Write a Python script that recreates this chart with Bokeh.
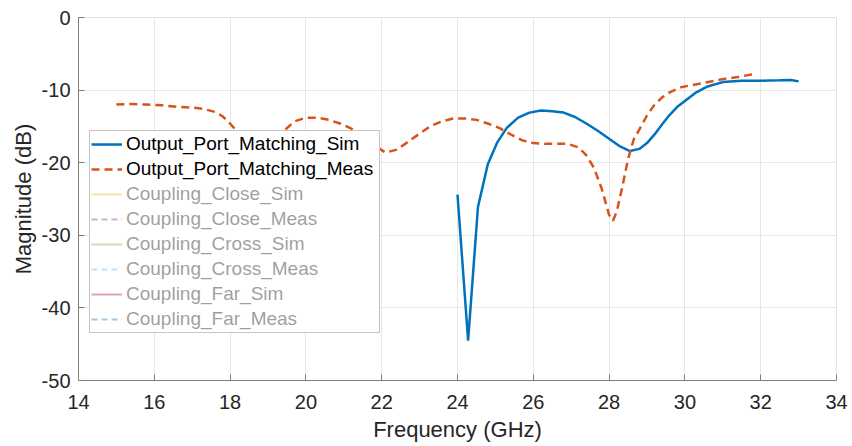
from bokeh.plotting import figure
from bokeh.models import Legend, LegendItem, FixedTicker, PrintfTickFormatter
from bokeh.embed import file_html
from bokeh.resources import INLINE

# Measured output-port matching (GHz, dB)
meas_f = [15.0, 15.4, 15.8, 16.2, 16.6, 17.0, 17.3, 17.6, 17.8, 18.0, 18.2, 18.5,
          18.8, 19.1, 19.4, 19.7, 20.0, 20.3, 20.6, 20.9, 21.2, 21.5, 21.8, 22.1,
          22.4, 22.7, 23.0, 23.3, 23.6, 23.9, 24.2, 24.5, 24.8, 25.1, 25.4, 25.7,
          26.0, 26.3, 26.6, 26.9, 27.2, 27.4, 27.6, 27.8, 28.0, 28.1, 28.2, 28.35,
          28.5, 28.65, 28.8, 29.0, 29.2, 29.4, 29.6, 29.9, 30.2, 30.5, 30.8, 31.1,
          31.4, 31.7, 31.9]
meas_db = [-12.0, -11.9, -12.0, -12.1, -12.3, -12.4, -12.6, -13.0, -13.6, -14.6, -15.8, -16.6,
           -16.9, -16.6, -15.7, -14.3, -13.8, -13.8, -14.1, -14.6, -15.3, -16.4, -17.6, -18.6,
           -18.2, -17.1, -16.0, -14.9, -14.3, -13.9, -13.9, -14.1, -14.6, -15.2, -16.1, -16.9,
           -17.3, -17.4, -17.4, -17.4, -17.9, -19.0, -20.7, -23.5, -27.2, -28.0, -26.8, -23.3,
           -19.5, -16.8, -15.4, -13.5, -12.0, -11.0, -10.3, -9.6, -9.3, -9.0, -8.7, -8.4,
           -8.2, -7.9, -7.8]

# Simulated output-port matching (GHz, dB)
sim_f = [24.0, 24.28, 24.54, 24.8, 25.05, 25.3, 25.6, 25.9, 26.2, 26.5, 26.8, 27.1,
         27.4, 27.7, 28.0, 28.3, 28.55, 28.8, 29.0, 29.2, 29.4, 29.6, 29.8, 30.0,
         30.3, 30.6, 31.0, 31.5, 32.0, 32.5, 32.8, 33.0]
sim_db = [-24.4, -44.5, -26.1, -20.2, -17.2, -15.2, -13.8, -13.1, -12.8, -12.9, -13.1, -13.7,
          -14.6, -15.6, -16.7, -17.8, -18.4, -18.1, -17.3, -16.1, -14.7, -13.4, -12.3, -11.5,
          -10.3, -9.5, -8.9, -8.7, -8.7, -8.65, -8.6, -8.8]

# Coupling traces are switched off (no data shown); they appear only, greyed, in the legend
coupling_names = ["Coupling_Close_Sim", "Coupling_Close_Meas", "Coupling_Cross_Sim",
                  "Coupling_Cross_Meas", "Coupling_Far_Sim", "Coupling_Far_Meas"]
coupling_colors = ["#EDB120", "#7E2F8E", "#77AC30", "#4DBEEE", "#A2142F", "#0072BD"]
coupling_dashes = ["solid", "6 4", "solid", "6 4", "solid", "6 4"]
NO_DATA = [float("nan")]

x_ticks = [14, 16, 18, 20, 22, 24, 26, 28, 30, 32, 34]
y_ticks = [-50, -40, -30, -20, -10, 0]

FONT = "Liberation Sans"
AXIS_GRAY = "#7f7f7f"
TEXT_DARK = "#262626"

p = figure(width=852, height=446, x_range=(14, 34), y_range=(-50, 0),
           output_backend="svg", toolbar_location=None,
           min_border_left=78, min_border_right=16, min_border_top=17, min_border_bottom=66,
           background_fill_color="white", border_fill_color="white")

p.outline_line_color = "#e3e3e3"
p.outline_line_width = 1

for ax, ticks in ((p.xaxis, x_ticks), (p.yaxis, y_ticks)):
    ax.ticker = FixedTicker(ticks=ticks)
    ax.formatter = PrintfTickFormatter(format="%d")
    ax.axis_line_color = AXIS_GRAY
    ax.major_tick_line_color = AXIS_GRAY
    ax.major_tick_in = 6
    ax.major_tick_out = 0
    ax.minor_tick_line_color = None
    ax.major_label_text_font = FONT
    ax.major_label_text_font_size = "20px"
    ax.major_label_text_color = TEXT_DARK
    ax.axis_label_text_font = FONT
    ax.axis_label_text_font_size = "22px"
    ax.axis_label_text_font_style = "normal"
    ax.axis_label_text_color = TEXT_DARK

p.xaxis.axis_label = "Frequency (GHz)"
p.yaxis.axis_label = "Magnitude (dB)"
p.xaxis.major_label_standoff = 14
p.xaxis.axis_label_standoff = 5
p.yaxis.major_label_standoff = 8
p.yaxis.axis_label_standoff = 3

for g in (p.xgrid, p.ygrid):
    g.grid_line_color = "#e6e6e6"
    g.grid_line_width = 1

sim_r = p.line(sim_f, sim_db, line_color="#0072BD", line_width=2.5)
meas_r = p.line(meas_f, meas_db, line_color="#D95319", line_width=2.5, line_dash="8 5")

items = [LegendItem(label="Output_Port_Matching_Sim", renderers=[sim_r]),
         LegendItem(label="Output_Port_Matching_Meas", renderers=[meas_r])]
for name, col, dash in zip(coupling_names, coupling_colors, coupling_dashes):
    r = p.line(x=NO_DATA, y=NO_DATA, line_color=col, line_width=2, line_dash=dash,
               muted=True, muted_line_color=col, muted_line_alpha=1.0,
               muted_line_dash=dash, muted_line_width=2)
    items.append(LegendItem(label=name, renderers=[r]))

legend = Legend(items=items, location=(11, 47), click_policy="mute",
                inactive_fill_color="white", inactive_fill_alpha=0.62,
                label_text_font=FONT, label_text_font_size="19px", label_text_color="black",
                glyph_width=31, glyph_height=24, label_height=24, label_standoff=4,
                label_width=252, spacing=1, padding=1, margin=0,
                border_line_color="#8c8c8c", border_line_width=1,
                background_fill_color="white", background_fill_alpha=1.0)
p.add_layout(legend, "center")

open("out.html", "w").write(file_html(p, INLINE))
